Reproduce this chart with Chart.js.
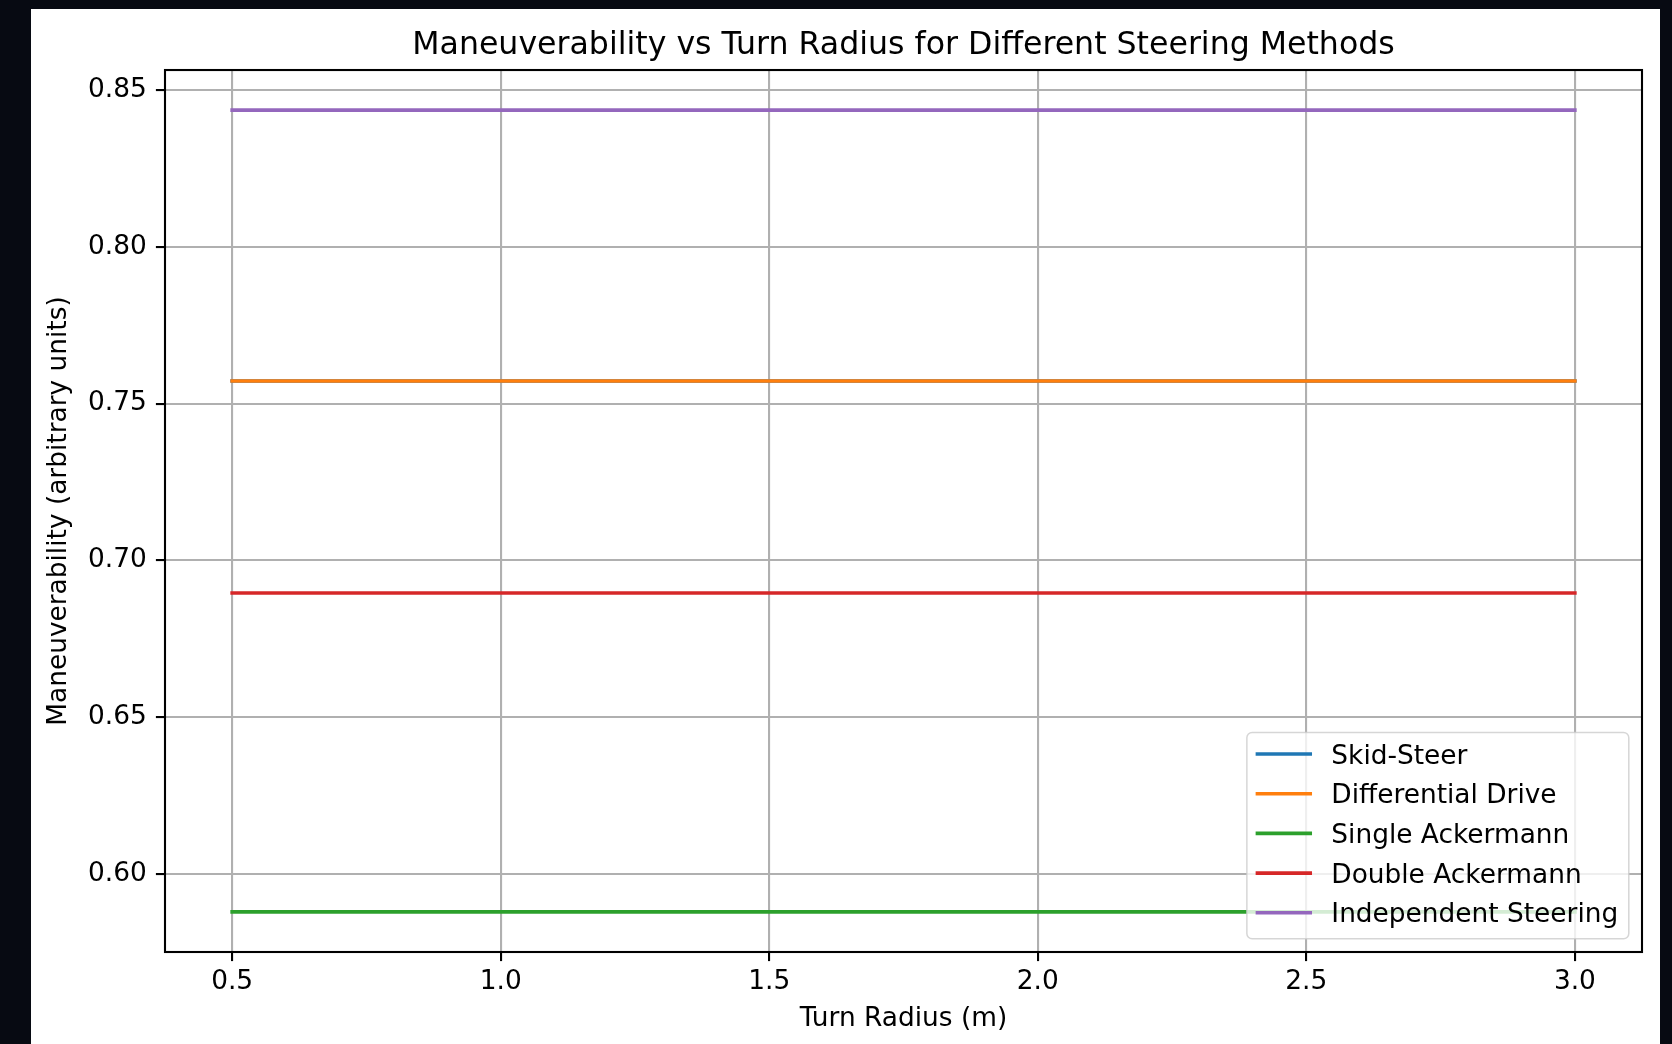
<!DOCTYPE html>
<html>
<head>
<meta charset="utf-8">
<title>Maneuverability vs Turn Radius</title>
<script src="https://cdn.jsdelivr.net/npm/chart.js@4.4.1/dist/chart.umd.min.js"></script>
<style>
  html, body { margin: 0; padding: 0; width: 1672px; height: 1044px; overflow: hidden; background: #070a12; }
  #panel { position: absolute; left: 31px; top: 9px; width: 1629px; height: 1035px; background: #ffffff; }
  canvas { display: block; }
</style>
</head>
<body>
<div id="panel"><canvas id="chart" width="1629" height="1035"></canvas></div>
<script>
// Turn radius samples (m) and maneuverability per steering method
const turnRadius = [0.5, 1.0, 1.5, 2.0, 2.5, 3.0];
const methodNames = ['Skid-Steer', 'Differential Drive', 'Single Ackermann', 'Double Ackermann', 'Independent Steering'];
const skidSteer = [0.7572, 0.7572, 0.7572, 0.7572, 0.7572, 0.7572];
const differentialDrive = [0.7572, 0.7572, 0.7572, 0.7572, 0.7572, 0.7572];
const singleAckermann = [0.5879, 0.5879, 0.5879, 0.5879, 0.5879, 0.5879];
const doubleAckermann = [0.6896, 0.6896, 0.6896, 0.6896, 0.6896, 0.6896];
const independentSteering = [0.8436, 0.8436, 0.8436, 0.8436, 0.8436, 0.8436];
const xTickValues = [0.5, 1.0, 1.5, 2.0, 2.5, 3.0];
const yTickValues = [0.60, 0.65, 0.70, 0.75, 0.80, 0.85];

const seriesValues = [skidSteer, differentialDrive, singleAckermann, doubleAckermann, independentSteering];
const seriesColors = ['#1f77b4', '#ff7f0e', '#2ca02c', '#d62728', '#9467bd'];

const FS = 26.4;        // tick / label / legend text size
const TITLE_FS = 31.6;  // chart title size
const LINE_W = 3.6;

// axis limits with a 5% margin around the data
function padded(values) {
  const lo = Math.min(...values), hi = Math.max(...values);
  const m = (hi - lo) * 0.05;
  return [lo - m, hi + m];
}
const [xMin, xMax] = padded(turnRadius);
const [yMin, yMax] = padded(seriesValues.flat());

const datasets = methodNames.map((name, i) => ({
  label: name,
  data: turnRadius.map((r, j) => ({ x: r, y: seriesValues[i][j] })),
  borderColor: seriesColors[i],
  backgroundColor: seriesColors[i],
  borderWidth: LINE_W,
  borderCapStyle: 'square',
  pointRadius: 0,
  pointHoverRadius: 0,
  tension: 0,
  fill: false,
  order: methodNames.length - i   // later series are painted over earlier ones
}));

// full box around the plotting area
const axesFrame = {
  id: 'axesFrame',
  afterDatasetsDraw(chart) {
    const { ctx, chartArea: a } = chart;
    ctx.save();
    ctx.strokeStyle = '#000';
    ctx.lineWidth = 2.1;
    ctx.strokeRect(a.left, a.top, a.right - a.left, a.bottom - a.top);
    ctx.restore();
  }
};

// legend drawn inside the lower-right corner of the plot
const legendInAxes = {
  id: 'legendInAxes',
  afterDraw(chart) {
    const { ctx, chartArea } = chart;
    const items = chart.data.datasets;
    ctx.save();
    ctx.font = FS + 'px "DejaVu Sans"';
    const textW = Math.max(...items.map(d => ctx.measureText(d.label).width));
    const pad = 0.4 * FS, handle = 2 * FS, gap = 0.8 * FS, rowH = 39.7;
    const w = pad + handle + gap + textW + pad;
    const h = 2 * pad + items.length * rowH - 0.5 * FS;
    const x = chartArea.right - 0.5 * FS - w;
    const y = chartArea.bottom - 0.5 * FS - h;

    ctx.beginPath();
    if (ctx.roundRect) ctx.roundRect(x, y, w, h, 0.2 * FS); else ctx.rect(x, y, w, h);
    ctx.fillStyle = 'rgba(255,255,255,0.8)';
    ctx.fill();
    ctx.strokeStyle = 'rgba(204,204,204,0.8)';
    ctx.lineWidth = 1.5;
    ctx.stroke();

    items.forEach((d, i) => {
      const cy = y + 21.6 + i * rowH;
      ctx.beginPath();
      ctx.moveTo(x + pad, cy);
      ctx.lineTo(x + pad + handle, cy);
      ctx.strokeStyle = d.borderColor;
      ctx.lineWidth = LINE_W;
      ctx.lineCap = 'square';
      ctx.stroke();
      ctx.fillStyle = '#000';
      ctx.textBaseline = 'alphabetic';
      ctx.textAlign = 'left';
      ctx.fillText(d.label, x + pad + handle + gap, cy + 0.3645 * FS);
    });
    ctx.restore();
  }
};

Chart.defaults.font.family = '"DejaVu Sans", sans-serif';
Chart.defaults.color = '#000';

new Chart(document.getElementById('chart'), {
  type: 'line',
  data: { datasets },
  plugins: [axesFrame, legendInAxes],
  options: {
    responsive: false,
    animation: false,
    events: [],
    layout: { padding: { left: 0, top: 0, right: 18, bottom: 0 } },
    plugins: {
      legend: { display: false },
      tooltip: { enabled: false },
      title: {
        display: true,
        fullSize: false,
        text: 'Maneuverability vs Turn Radius for Different Steering Methods',
        color: '#000',
        font: { size: TITLE_FS, weight: 'normal' },
        padding: { top: 17.5, bottom: 5.6 }
      }
    },
    scales: {
      x: {
        type: 'linear',
        min: xMin,
        max: xMax,
        afterBuildTicks: s => { s.ticks = xTickValues.map(v => ({ value: v })); },
        afterFit: s => { s.height = 92; },
        ticks: {
          callback: v => Number(v).toFixed(1),
          color: '#000',
          font: { size: FS },
          padding: 5,
          maxRotation: 0,
          autoSkip: false
        },
        grid: { color: '#b0b0b0', lineWidth: 2.1, tickColor: '#000', tickWidth: 2.1, tickLength: 9.1 },
        border: { display: false },
        title: { display: true, text: 'Turn Radius (m)', color: '#000', font: { size: FS }, padding: { top: 0, bottom: 9.4 } }
      },
      y: {
        type: 'linear',
        min: yMin,
        max: yMax,
        afterBuildTicks: s => { s.ticks = yTickValues.map(v => ({ value: v })); },
        afterFit: s => { s.width = 134; },
        ticks: {
          callback: v => Number(v).toFixed(2),
          color: '#000',
          font: { size: FS },
          padding: 9.1,
          autoSkip: false
        },
        grid: { color: '#b0b0b0', lineWidth: 2.1, tickColor: '#000', tickWidth: 2.1, tickLength: 9.1 },
        border: { display: false },
        title: { display: true, text: 'Maneuverability (arbitrary units)', color: '#000', font: { size: FS }, padding: { top: 12.4, bottom: 0 } }
      }
    }
  }
});
</script>
</body>
</html>
